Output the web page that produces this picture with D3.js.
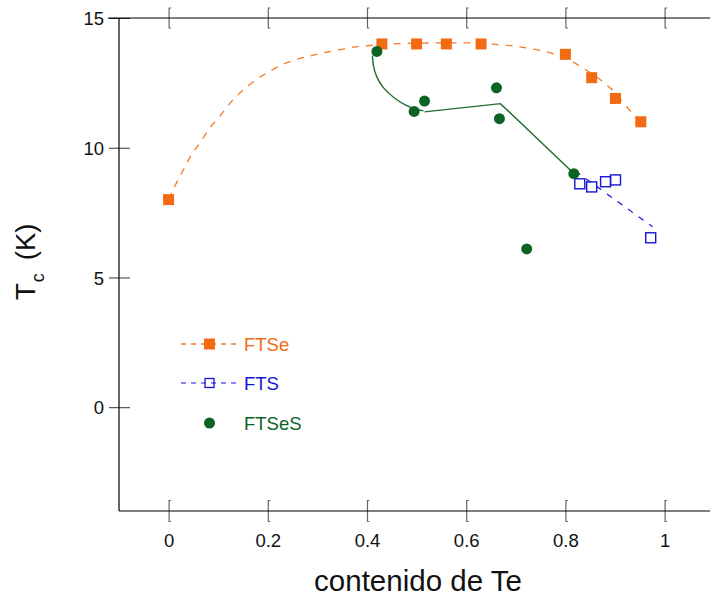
<!DOCTYPE html>
<html>
<head>
<meta charset="utf-8">
<script src="https://cdn.jsdelivr.net/npm/d3@7"></script>
<style>
  html, body { margin: 0; padding: 0; background: #fff; }
  svg { display: block; font-family: "Liberation Sans", Arial, Helvetica, sans-serif; }
</style>
</head>
<body>
<svg id="chart" width="710" height="597"></svg>
<script>
// ---- Data ----
const xTicks = [0, 0.2, 0.4, 0.6, 0.8, 1];
const xTickLabels = ["0", "0.2", "0.4", "0.6", "0.8", "1"];
const yTicks = [0, 5, 10, 15];
const yTickLabels = ["0", "5", "10", "15"];

// FTSe (filled orange squares)
const ftseX = [0, 0.43, 0.50, 0.56, 0.63, 0.80, 0.853, 0.901, 0.952];
const ftseY = [8.0, 14.0, 14.0, 14.0, 14.0, 13.6, 12.7, 11.9, 11.0];

// FTSe guide curve (dashed orange)
const ftseCurveX = [0, 0.012, 0.03, 0.046, 0.063, 0.083, 0.103, 0.123, 0.147, 0.177, 0.204, 0.23, 0.257, 0.29, 0.318, 0.345, 0.378, 0.412, 0.45, 0.5, 0.55, 0.6, 0.654, 0.708, 0.741, 0.775, 0.802, 0.829, 0.856, 0.89, 0.923, 0.95];
const ftseCurveY = [8.0, 8.5, 9.15, 9.73, 10.18, 10.76, 11.21, 11.7, 12.17, 12.63, 12.95, 13.21, 13.4, 13.56, 13.68, 13.78, 13.89, 13.95, 14.0, 14.03, 14.04, 14.04, 13.99, 13.89, 13.78, 13.63, 13.46, 13.14, 12.82, 12.31, 11.59, 11.0];

// FTS (open blue squares)
const ftsX = [0.829, 0.853, 0.881, 0.901, 0.972];
const ftsY = [8.61, 8.49, 8.69, 8.76, 6.53];

// FTS guide line (dashed blue)
const ftsLineX = [0.82, 0.976];
const ftsLineY = [9.1, 6.95];

// FTSeS (filled green circles)
const ftsesX = [0.42, 0.495, 0.516, 0.661, 0.667, 0.722, 0.817];
const ftsesY = [13.71, 11.40, 11.80, 12.31, 11.12, 6.10, 9.0];

// FTSeS guide: curved arc, then straight segments (solid green)
const ftsesArcX = [0.411, 0.412, 0.418, 0.432, 0.455, 0.48, 0.50, 0.514];
const ftsesArcY = [13.55, 13.2, 12.75, 12.3, 11.9, 11.6, 11.47, 11.42];
const ftsesSegX = [0.516, 0.669, 0.815];
const ftsesSegY = [11.38, 11.70, 9.05];

const seriesNames = ["FTSe", "FTS", "FTSeS"];

// ---- Styles ----
const ORANGE = "#f26a12", ORANGE_LINE = "#f47b2c";
const BLUE = "#1414d8";
const GREEN = "#0b6324", GREEN_LINE = "#1d6d2e";

const svg = d3.select("#chart");
const L = 119, T = 18, B = 511, R = 710;

const x = d3.scaleLinear().domain([-0.1, 1.1]).range([L, L + 1.2 * 496]);
const y = d3.scaleLinear().domain([-4, 15]).range([B, T]);

// ---- Axes ----
const gLeft = svg.append("g").attr("transform", `translate(${L},0)`)
  .call(d3.axisLeft(y).tickValues(yTicks).tickFormat((d, i) => yTickLabels[i]).tickSize(11).tickPadding(5));
gLeft.select(".domain").remove();
gLeft.selectAll(".tick line").attr("x1", -10).attr("x2", 11).attr("stroke", "#333").attr("stroke-width", 1);
gLeft.selectAll(".tick text").attr("font-size", 18.5).attr("fill", "#111").attr("font-family", "Liberation Sans, Arial, sans-serif").attr("dy", "0.36em").attr("x", -15);

const gBot = svg.append("g").attr("transform", `translate(0,${B})`)
  .call(d3.axisBottom(x).tickValues(xTicks).tickFormat((d, i) => xTickLabels[i]).tickSize(10).tickPadding(4));
gBot.select(".domain").remove();
gBot.selectAll(".tick line").remove();
gBot.selectAll(".tick").append("path")
  .attr("d", "M2,-10.5H0V10.5H2").attr("fill", "none").attr("stroke", "#666").attr("stroke-width", 1.2);
gBot.selectAll(".tick text").attr("font-size", 18.5).attr("fill", "#111").attr("font-family", "Liberation Sans, Arial, sans-serif").attr("y", 23).attr("dy", "0.71em");

const gTop = svg.append("g").attr("transform", `translate(0,${T})`)
  .call(d3.axisTop(x).tickValues(xTicks).tickFormat(""));
gTop.select(".domain").remove();
gTop.selectAll(".tick line").remove();
gTop.selectAll(".tick").append("path")
  .attr("d", "M2,-10H0V10H2").attr("fill", "none").attr("stroke", "#666").attr("stroke-width", 1.2);

// frame lines
svg.append("line").attr("x1", L).attr("x2", L).attr("y1", T).attr("y2", B).attr("stroke", "#000").attr("stroke-width", 1.2);
svg.append("line").attr("x1", L - 11).attr("x2", R).attr("y1", T).attr("y2", T).attr("stroke", "#000").attr("stroke-width", 1.2);
svg.append("line").attr("x1", L).attr("x2", R).attr("y1", B).attr("y2", B).attr("stroke", "#000").attr("stroke-width", 1.2);

// ---- Axis titles ----
svg.append("text").attr("x", 418).attr("y", 591).attr("text-anchor", "middle")
  .attr("font-size", 29.5).attr("fill", "#111").text("contenido de Te");

const yt = svg.append("text").attr("transform", "translate(35,300) rotate(-90)")
  .attr("font-size", 27.5).attr("fill", "#111");
yt.append("tspan").text("T");
yt.append("tspan").attr("font-size", 18).attr("dy", 9).attr("dx", 1).text("c");
yt.append("tspan").attr("dy", -9).attr("dx", 13).text("(K)");

// ---- Series ----
const plot = svg.append("g");

plot.append("path")
  .datum(d3.zip(ftseCurveX, ftseCurveY))
  .attr("d", d3.line().x(d => x(d[0])).y(d => y(d[1])).curve(d3.curveMonotoneX))
  .attr("fill", "none").attr("stroke", ORANGE_LINE).attr("stroke-width", 1.3).attr("stroke-dasharray", "7,7");

plot.append("path")
  .datum(d3.zip(ftsLineX, ftsLineY))
  .attr("d", d3.line().x(d => x(d[0])).y(d => y(d[1])))
  .attr("fill", "none").attr("stroke", BLUE).attr("stroke-width", 1.2).attr("stroke-dasharray", "6,7");

plot.append("path")
  .datum(d3.zip(ftsesArcX, ftsesArcY))
  .attr("d", d3.line().x(d => x(d[0])).y(d => y(d[1])).curve(d3.curveBasis))
  .attr("fill", "none").attr("stroke", GREEN_LINE).attr("stroke-width", 1.4);
plot.append("path")
  .datum(d3.zip(ftsesSegX, ftsesSegY))
  .attr("d", d3.line().x(d => x(d[0])).y(d => y(d[1])))
  .attr("fill", "none").attr("stroke", GREEN_LINE).attr("stroke-width", 1.4);

plot.selectAll(".ftse").data(d3.zip(ftseX, ftseY)).join("rect")
  .attr("x", d => x(d[0]) - 5.5).attr("y", d => y(d[1]) - 5.5)
  .attr("width", 11).attr("height", 11).attr("fill", ORANGE);

plot.selectAll(".fts").data(d3.zip(ftsX, ftsY)).join("rect")
  .attr("x", d => x(d[0]) - 5).attr("y", d => y(d[1]) - 5)
  .attr("width", 10).attr("height", 10).attr("fill", "none").attr("stroke", BLUE).attr("stroke-width", 1.4);

plot.selectAll(".ftses").data(d3.zip(ftsesX, ftsesY)).join("circle")
  .attr("cx", d => x(d[0])).attr("cy", d => y(d[1])).attr("r", 5.5).attr("fill", GREEN);

// ---- Legend ----
const leg = svg.append("g");
const legY = [344, 383, 423];
const legColors = [ORANGE, BLUE, GREEN];
leg.append("line").attr("x1", 181).attr("x2", 240).attr("y1", legY[0]).attr("y2", legY[0])
  .attr("stroke", ORANGE_LINE).attr("stroke-width", 1.3).attr("stroke-dasharray", "5,5");
leg.append("rect").attr("x", 204).attr("y", legY[0] - 5.5).attr("width", 11).attr("height", 11).attr("fill", ORANGE);
leg.append("line").attr("x1", 181).attr("x2", 240).attr("y1", legY[1]).attr("y2", legY[1])
  .attr("stroke", BLUE).attr("stroke-width", 1.2).attr("stroke-dasharray", "5,5");
leg.append("rect").attr("x", 205).attr("y", legY[1] - 4.5).attr("width", 9).attr("height", 9)
  .attr("fill", "none").attr("stroke", BLUE).attr("stroke-width", 1.3);
leg.append("circle").attr("cx", 209.5).attr("cy", legY[2]).attr("r", 5.5).attr("fill", GREEN);

seriesNames.forEach((n, i) => {
  leg.append("text").attr("x", 244).attr("y", legY[i]).attr("dy", "0.36em")
    .attr("font-size", 18.5).attr("fill", legColors[i]).text(n);
});
</script>
</body>
</html>
